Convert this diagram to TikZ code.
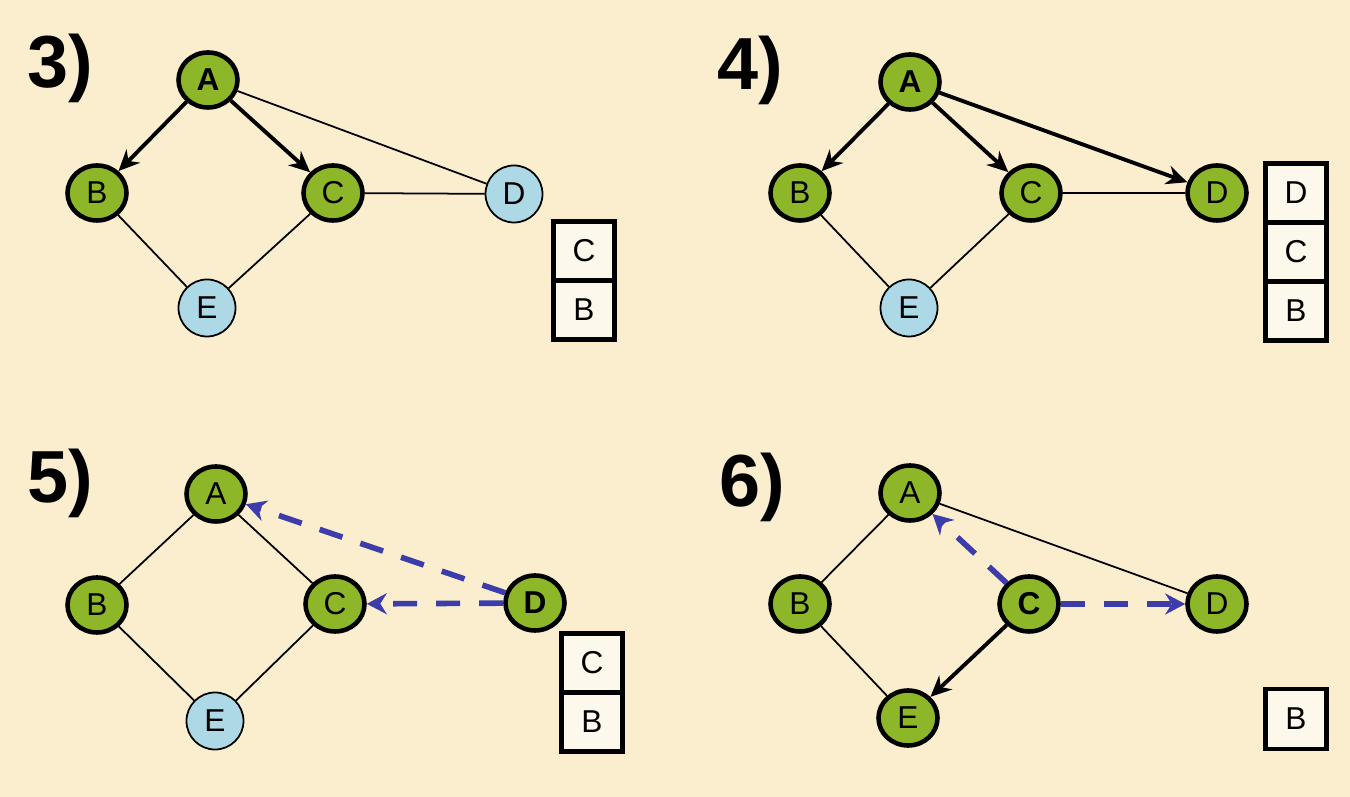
\documentclass[tikz,border=0pt]{standalone}
\usepackage{fontspec}
\setmainfont{Liberation Sans}
\usetikzlibrary{arrows.meta,shapes.geometric}
\definecolor{paper}{RGB}{250,238,207}
\definecolor{olive}{RGB}{141,182,40}
\definecolor{pale}{RGB}{173,216,230}
\definecolor{probe}{RGB}{60,60,170}

\begin{document}
\begin{tikzpicture}[x=0.1mm,y=-0.1mm,
    seen/.style={ellipse,draw,fill=olive,line width=1.3pt,minimum width=5.9mm,minimum height=5.5mm,inner sep=0pt},
    new/.style={circle,draw,fill=pale,line width=0.5pt,minimum size=5.7mm,inner sep=0pt},
    cur/.style={font=\fontsize{9}{9}\selectfont\bfseries},
    tree/.style={line width=1.1pt,-{Stealth[length=2.1mm,width=1.9mm]}},
    link/.style={line width=0.5pt},
    back/.style={probe,line width=1.6pt,dash pattern=on 2.4mm off 1.9mm,-{Stealth[length=2mm,width=2.1mm]}},
    cell/.style={draw,fill=white!60!paper,line width=1.4pt,minimum width=6.1mm,minimum height=5.9mm,inner sep=0pt},
    panel/.style={font=\fontsize{21}{21}\selectfont\bfseries,anchor=base west,inner sep=0pt}]

        \fill[paper] (0,0) rectangle (1350,797);

        \node[panel] (L3) at (27,88)  {3)};
        \node[panel] (L4) at (717,90) {4)};
        \node[panel] (L5) at (27,503) {5)};
        \node[panel] (L6) at (719,507) {6)};

        \begin{scope}[every node/.style={font=\fontsize{9}{9}\selectfont}]
          % 3)
          \node[seen,cur] (A3) at (208,80)  {A};
          \node[seen]     (B3) at (97,193)  {B};
          \node[seen]     (C3) at (333,193) {C};
          \node[new]      (D3) at (514,194) {D};
          \node[new]      (E3) at (207,308) {E};
          \node[cell]     (S3c) at (584,251) {C};
          \node[cell]     (S3b) at (584,310) {B};

          % 4)
          \node[seen,cur] (A4) at (910,82)   {A};
          \node[seen]     (B4) at (800,193)  {B};
          \node[seen]     (C4) at (1031,193) {C};
          \node[seen]     (D4) at (1217,193) {D};
          \node[new]      (E4) at (909,308)  {E};
          \node[cell]     (S4d) at (1296,193) {D};
          \node[cell]     (S4c) at (1296,252) {C};
          \node[cell]     (S4b) at (1296,311) {B};

          % 5)
          \node[seen]     (A5) at (216,494) {A};
          \node[seen]     (B5) at (97,605)  {B};
          \node[seen]     (C5) at (335,604) {C};
          \node[seen,cur] (D5) at (535,603) {D};
          \node[new]      (E5) at (215,721) {E};
          \node[cell]     (S5c) at (592,663) {C};
          \node[cell]     (S5b) at (592,722) {B};

          % 6)
          \node[seen]     (A6) at (910,493)  {A};
          \node[seen]     (B6) at (800,604)  {B};
          \node[seen,cur] (C6) at (1029,604) {C};
          \node[seen]     (D6) at (1217,604) {D};
          \node[seen]     (E6) at (908,718)  {E};
          \node[cell,minimum height=6mm] (S6b) at (1296,719) {B};
        \end{scope}

        \begin{scope}[every edge/.style={draw}]
          \path (A3) edge[tree] (B3);
          \path (A3) edge[tree] (C3);
          \path (A3) edge[link] (D3);
          \path (C3) edge[link] (D3);
          \path (B3) edge[link] (E3);
          \path (C3) edge[link] (E3);

          \path (A4) edge[tree] (B4);
          \path (A4) edge[tree] (C4);
          \path (A4) edge[tree] (D4);
          \path (C4) edge[link] (D4);
          \path (B4) edge[link] (E4);
          \path (C4) edge[link] (E4);

          \path (A5) edge[link] (B5);
          \path (A5) edge[link] (C5);
          \path (B5) edge[link] (E5);
          \path (C5) edge[link] (E5);
          \path (D5) edge[back] (A5);
          \path (D5) edge[back] (C5);

          \path (A6) edge[link] (B6);
          \path (B6) edge[link] (E6);
          \path (A6) edge[link] (D6);
          \path (C6) edge[tree] (E6);
          \path (C6) edge[back] (A6);
          \path (C6) edge[back] (D6);
        \end{scope}

      \end{tikzpicture}
\end{document}
